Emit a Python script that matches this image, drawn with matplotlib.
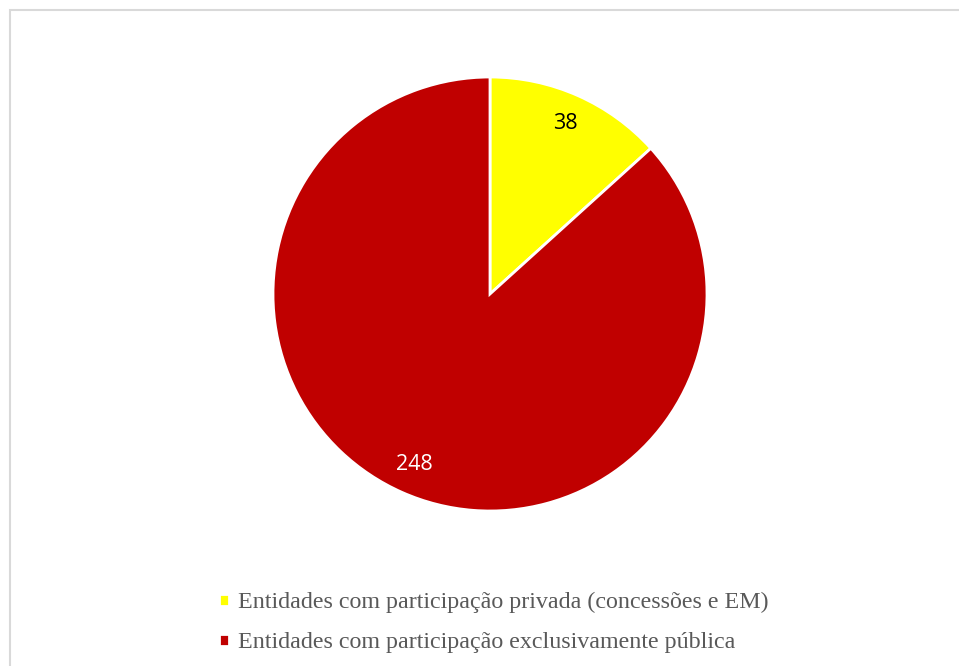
import matplotlib.pyplot as plt
from matplotlib.patches import Rectangle

labels = ['Entidades com participação privada (concessões e EM)',
          'Entidades com participação exclusivamente pública']
values = [38, 248]
colors = ['#ffff00', '#c00000']
label_colors = ['black', 'white']

W, H = 959, 666
fig = plt.figure(figsize=(W / 100, H / 100), dpi=100)

# light grey chart-area border (right/bottom run off the image)
fig.patches.append(Rectangle((10 / W, -0.1), 1.2, 1.1 - 10 / H, transform=fig.transFigure,
                             fill=False, edgecolor='#d9d9d9', lw=1.5))

ax = fig.add_axes([273 / W, 155 / H, 434 / W, 434 / H])
wedges, texts, autotexts = ax.pie(values, colors=colors, startangle=90, counterclock=False,
                                  autopct=lambda p: f'{p * sum(values) / 100:.0f}',
                                  pctdistance=0.86,
                                  wedgeprops=dict(edgecolor='white', linewidth=2),
                                  textprops=dict(fontsize=15.5, family='Open Sans'))
for t, c in zip(autotexts, label_colors):
    t.set_color(c)
ax.set_xlim(-1, 1)
ax.set_ylim(-1, 1)

leg = fig.legend(wedges, labels, loc='upper left', bbox_to_anchor=(207 / W, 1 - 580 / H),
                 frameon=False, handlelength=0.4, handleheight=0.4, handletextpad=0.4,
                 labelspacing=0.8, borderpad=0,
                 prop=dict(family='Liberation Serif', size=17.3))
for t in leg.get_texts():
    t.set_color('#595959')

fig.savefig('out.png', dpi=100)
